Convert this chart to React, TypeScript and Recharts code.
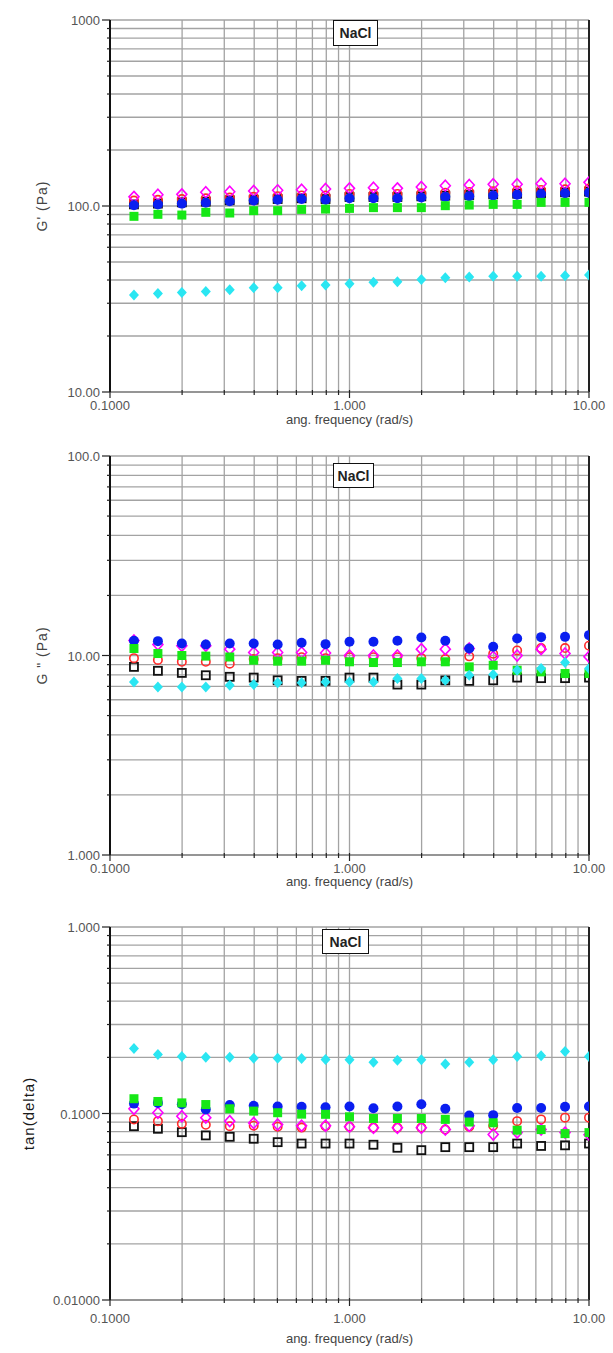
import React from 'react';
import { ScatterChart, Scatter, XAxis, YAxis, CartesianGrid, ReferenceLine, Label } from 'recharts';

// angular frequency (rad/s), 10 points per decade
const freq = [0.1259, 0.1585, 0.1995, 0.2512, 0.3162, 0.3981, 0.5012, 0.631, 0.7943, 1.0, 1.259, 1.585, 1.995, 2.512, 3.162, 3.981, 5.012, 6.31, 7.943, 10.0];

const xTicks = [0.1, 0.2, 0.3, 0.4, 0.5, 0.6, 0.7, 0.8, 0.9, 1, 2, 3, 4, 5, 6, 7, 8, 9, 10];
const xMajor = [0.1, 1, 10];
const xMajorLabels = ['0.1000', '1.000', '10.00'];

// G' (Pa)
const g1Black = [102, 103, 104.6, 105.5, 107.3, 108, 109, 110, 109, 111.8, 111.8, 111.8, 112.7, 113.6, 114.6, 115.5, 116.4, 117.4, 118.5, 119.4];
const g1Red = [107, 108, 109, 110, 111, 112, 113, 114, 114, 116, 116, 116, 117, 118, 119, 120, 121, 122, 123, 124];
const g1Magenta = [112, 115, 115.5, 118.5, 119.4, 120.4, 121.4, 122.4, 123.4, 124.4, 125.4, 124.4, 126.5, 128.6, 129.7, 130.8, 130.8, 131.8, 131.8, 134];
const g1Blue = [101, 102, 103, 104, 106, 107, 108, 109, 108, 110, 110, 110, 111, 112, 113, 114, 115, 116, 117, 118];
const g1Green = [88, 90.2, 89.4, 92.5, 91.7, 94.4, 94.4, 95.9, 96.3, 97.1, 98, 98, 98, 100.4, 101.2, 102, 102, 104.6, 104.6, 104.6];
const g1Cyan = [33.2, 33.8, 34.3, 34.7, 35.5, 36.4, 36.4, 37.3, 37.6, 38.2, 38.9, 39.1, 40.2, 41.2, 41.5, 41.9, 41.9, 41.9, 42.2, 42.6];

// G'' (Pa)
const g2Black = [8.77, 8.38, 8.18, 7.96, 7.82, 7.75, 7.51, 7.46, 7.46, 7.75, 7.75, 7.15, 7.15, 7.5, 7.46, 7.51, 7.75, 7.7, 7.7, 7.75];
const g2Red = [9.7, 9.5, 9.3, 9.3, 9.1, 9.6, 9.7, 9.8, 9.7, 9.8, 9.8, 9.8, 9.7, 9.6, 9.9, 10.2, 10.6, 10.9, 10.9, 11.2];
const g2Magenta = [11.9, 11.36, 11.19, 11.19, 10.76, 10.35, 10.35, 10.35, 10.3, 10.0, 10.0, 10.0, 10.76, 10.76, 10.84, 9.85, 10.0, 10.76, 10.23, 9.85];
const g2Blue = [11.85, 11.8, 11.49, 11.36, 11.49, 11.49, 11.36, 11.58, 11.4, 11.72, 11.72, 11.85, 12.32, 11.85, 10.84, 11.06, 12.17, 12.36, 12.4, 12.65];
const g2Green = [10.84, 10.23, 10.0, 9.93, 9.83, 9.47, 9.37, 9.37, 9.47, 9.3, 9.22, 9.22, 9.3, 9.3, 8.77, 8.93, 8.44, 8.28, 8.12, 8.12];
const g2Cyan = [7.37, 6.96, 6.96, 6.96, 7.09, 7.15, 7.3, 7.3, 7.37, 7.37, 7.37, 7.66, 7.66, 7.51, 7.96, 8.03, 8.44, 8.6, 9.22, 8.6];

// tan(delta)
const tdBlack = [0.0855, 0.0828, 0.0794, 0.0763, 0.075, 0.0732, 0.0702, 0.069, 0.069, 0.069, 0.068, 0.0655, 0.0636, 0.066, 0.066, 0.066, 0.069, 0.067, 0.0675, 0.069];
const tdRed = [0.0929, 0.091, 0.088, 0.087, 0.0855, 0.086, 0.085, 0.084, 0.0855, 0.085, 0.084, 0.084, 0.084, 0.082, 0.085, 0.086, 0.091, 0.093, 0.095, 0.095];
const tdMagenta = [0.106, 0.101, 0.0967, 0.095, 0.091, 0.089, 0.0873, 0.086, 0.086, 0.085, 0.0838, 0.0838, 0.0838, 0.082, 0.086, 0.0772, 0.079, 0.082, 0.079, 0.077];
const tdBlue = [0.113, 0.114, 0.112, 0.105, 0.111, 0.11, 0.109, 0.1086, 0.108, 0.109, 0.1067, 0.109, 0.112, 0.106, 0.0976, 0.098, 0.107, 0.107, 0.1086, 0.109];
const tdGreen = [0.12, 0.116, 0.114, 0.1117, 0.106, 0.103, 0.101, 0.0992, 0.099, 0.096, 0.094, 0.094, 0.094, 0.093, 0.09, 0.0892, 0.0814, 0.082, 0.078, 0.079];
const tdCyan = [0.223, 0.207, 0.202, 0.2, 0.2, 0.198, 0.198, 0.197, 0.195, 0.194, 0.188, 0.193, 0.194, 0.184, 0.188, 0.194, 0.202, 0.204, 0.215, 0.202];

const gpTicks = [10, 20, 30, 40, 50, 60, 70, 80, 90, 100, 200, 300, 400, 500, 600, 700, 800, 900, 1000];
const gpMajor = [10, 100, 1000];
const gpLabels = ['10.00', '100.0', '1000'];

const gppTicks = [1, 2, 3, 4, 5, 6, 7, 8, 9, 10, 20, 30, 40, 50, 60, 70, 80, 90, 100];
const gppMajor = [1, 10, 100];
const gppLabels = ['1.000', '10.00', '100.0'];

const tdTicks = [0.01, 0.02, 0.03, 0.04, 0.05, 0.06, 0.07, 0.08, 0.09, 0.1, 0.2, 0.3, 0.4, 0.5, 0.6, 0.7, 0.8, 0.9, 1];
const tdMajor = [0.01, 0.1, 1];
const tdLabels = ['0.01000', '0.1000', '1.000'];

const styles = [
  { kind: 'sqOpen', color: '#111111' },
  { kind: 'circOpen', color: '#ff2a2a' },
  { kind: 'diaOpen', color: '#ff00ff' },
  { kind: 'circ', color: '#0a1ef0' },
  { kind: 'sq', color: '#16e816' },
  { kind: 'dia', color: '#2ae6f2' },
];

const FONT = '"Liberation Sans", Arial, sans-serif';

const marker = (kind: string, color: string) => (p: any) => {
  const { cx, cy } = p;
  if (cx == null || cy == null) return <g />;
  if (kind === 'sq') return <rect x={cx - 4.5} y={cy - 4.5} width={9} height={9} fill={color} />;
  if (kind === 'sqOpen') return <rect x={cx - 4} y={cy - 4} width={8} height={8} fill="none" stroke={color} strokeWidth={1.8} />;
  if (kind === 'circ') return <circle cx={cx} cy={cy} r={5} fill={color} />;
  if (kind === 'circOpen') return <circle cx={cx} cy={cy} r={4.2} fill="none" stroke={color} strokeWidth={1.6} />;
  const pts = `${cx},${cy - 5.5} ${cx + 5},${cy} ${cx},${cy + 5.5} ${cx - 5},${cy}`;
  if (kind === 'dia') return <polygon points={pts} fill={color} />;
  return <polygon points={pts} fill="none" stroke={color} strokeWidth={1.6} />;
};

function Panel(props: any) {
  const { top, height, plotH, domain, ticks, majors, labels, title, titleX, series, tickDy, titleDy, box, dark } = props;
  const xAxisH = height - 20 - plotH;

  const YTick = (t: any) => {
    const i = majors.indexOf(t.payload.value);
    return (
      <g>
        <line x1={t.x - (i >= 0 ? 8 : 3)} x2={t.x} y1={t.y} y2={t.y} stroke="#222" strokeWidth={1.2} />
        {i >= 0 && (
          <text x={t.x - 10} y={t.y} dy={5} textAnchor="end" fontSize={13} fill="#555" fontFamily={FONT}>
            {labels[i]}
          </text>
        )}
      </g>
    );
  };

  const XTick = (t: any) => {
    const i = xMajor.indexOf(t.payload.value);
    return (
      <g>
        <line x1={t.x} x2={t.x} y1={t.y - 2} y2={t.y + (i >= 0 ? 6 : 3)} stroke="#222" strokeWidth={1.2} />
        {i >= 0 && (
          <text x={t.x} y={t.y + tickDy} textAnchor="middle" fontSize={13} fill="#555" fontFamily={FONT}>
            {xMajorLabels[i]}
          </text>
        )}
      </g>
    );
  };

  return (
    <div style={{ position: 'absolute', left: 0, top, width: 613, height }}>
      <ScatterChart width={613} height={height} margin={{ top: 20, right: 24, left: 0, bottom: 0 }}>
        <CartesianGrid stroke="#a3a3a3" strokeWidth={1.3} />
        <XAxis
          type="number"
          dataKey="x"
          scale="log"
          domain={[0.1, 10]}
          ticks={xTicks}
          interval={0}
          allowDataOverflow
          height={xAxisH}
          tickSize={0}
          tickMargin={0}
          axisLine={{ stroke: '#888', strokeWidth: 1.3 }}
          tick={(t: any) => <XTick {...t} />}
        >
          <Label
            content={(lp: any) => {
              const vb = lp.viewBox || { x: 110, y: plotH + 20, width: 479 };
              return (
                <text x={vb.x + vb.width / 2} y={vb.y + titleDy} textAnchor="middle" fontSize={13} fill="#444" fontFamily={FONT}>
                  ang. frequency (rad/s)
                </text>
              );
            }}
          />
        </XAxis>
        <YAxis
          type="number"
          dataKey="y"
          scale="log"
          domain={domain}
          ticks={ticks}
          interval={0}
          allowDataOverflow
          width={110}
          tickSize={0}
          tickMargin={0}
          axisLine={{ stroke: '#111', strokeWidth: 2 }}
          tick={(t: any) => <YTick {...t} />}
        >
          <Label
            content={() => {
              const cy = 20 + plotH / 2;
              return (
                <text
                  x={titleX}
                  y={cy}
                  transform={`rotate(-90, ${titleX}, ${cy})`}
                  textAnchor="middle"
                  dominantBaseline="middle"
                  fontSize={dark ? 15 : 14}
                  letterSpacing={1}
                  fill={dark ? '#1a1a1a' : '#444'}
                  fontFamily={FONT}
                >
                  {title}
                </text>
              );
            }}
          />
        </YAxis>
        <ReferenceLine x={10} stroke="#222" strokeWidth={2} />
        {series.map((vals: number[], k: number) => (
          <Scatter
            key={k}
            data={freq.map((x, i) => ({ x, y: vals[i] }))}
            shape={marker(styles[k].kind, styles[k].color)}
            isAnimationActive={false}
          />
        ))}
      </ScatterChart>
      <div
        style={{
          position: 'absolute',
          left: box[0],
          top: box[1],
          width: box[2],
          height: box[3],
          border: '1.5px solid #111',
          background: '#fff',
          boxSizing: 'border-box',
          fontFamily: FONT,
          fontSize: 14,
          fontWeight: 600,
          color: '#222',
          display: 'flex',
          alignItems: 'center',
          justifyContent: 'center',
        }}
      >
        NaCl
      </div>
    </div>
  );
}

export default function App() {
  return (
    <div style={{ position: 'absolute', left: 0, top: 0, width: 613, height: 1353, background: '#fff' }}>
      <Panel
        top={0}
        height={430}
        plotH={372}
        domain={[10, 1000]}
        ticks={gpTicks}
        majors={gpMajor}
        labels={gpLabels}
        title="G' (Pa)"
        titleX={43}
        series={[g1Black, g1Red, g1Magenta, g1Blue, g1Green, g1Cyan]}
        tickDy={18}
        titleDy={32}
        box={[333, 20, 45, 26]}
      />
      <Panel
        top={436}
        height={455}
        plotH={399}
        domain={[1, 100]}
        ticks={gppTicks}
        majors={gppMajor}
        labels={gppLabels}
        title={'G " (Pa)'}
        titleX={43}
        series={[g2Black, g2Red, g2Magenta, g2Blue, g2Green, g2Cyan]}
        tickDy={18}
        titleDy={31}
        box={[333, 27, 41, 25]}
      />
      <Panel
        top={907}
        height={446}
        plotH={373}
        domain={[0.01, 1]}
        ticks={tdTicks}
        majors={tdMajor}
        labels={tdLabels}
        title="tan(delta)"
        titleX={30}
        series={[tdBlack, tdRed, tdMagenta, tdBlue, tdGreen, tdCyan]}
        tickDy={23}
        titleDy={43}
        box={[322, 22, 47, 25]}
        dark
      />
    </div>
  );
}
